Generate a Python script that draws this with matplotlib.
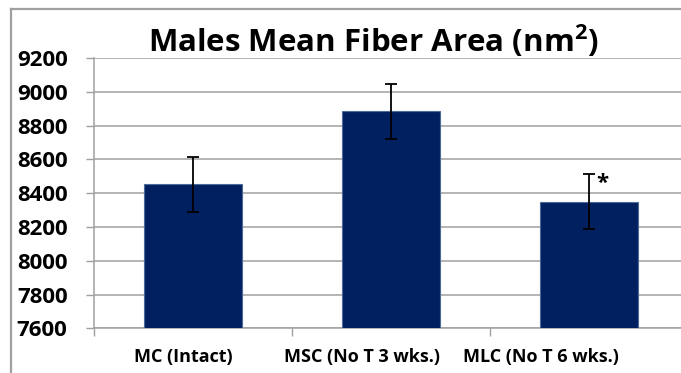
import matplotlib.pyplot as plt
from matplotlib.lines import Line2D

# values
groups = ['MC (Intact)', 'MSC (No T 3 wks.)', 'MLC (No T 6 wks.)']
mean_area = [8452, 8884, 8350]
sem_area = [163, 164, 165]
signif = ['', '', '*']
y_ticks = [7600, 7800, 8000, 8200, 8400, 8600, 8800, 9000, 9200]

plt.rcParams['font.family'] = ['Open Sans', 'DejaVu Sans']
plt.rcParams['font.weight'] = 'bold'
plt.rcParams['mathtext.fontset'] = 'custom'
plt.rcParams['mathtext.bf'] = 'Open Sans:bold'

W, H = 681, 373
fig = plt.figure(figsize=(W / 100, H / 100), dpi=100)
# plot area runs a little past the right edge, as in the reference
ax = fig.add_axes([94 / W, 1 - 328.3 / H, 594 / W, (328.3 - 58) / H])

x = list(range(len(groups)))
ax.bar(x, mean_area, width=0.49, color='#002060', edgecolor='#4d6a99',
       linewidth=0.8, zorder=3)
ax.errorbar(x, mean_area, yerr=sem_area, fmt='none', ecolor='black',
            elinewidth=1.3, capsize=4.5, capthick=1.3, zorder=4)
for xi, m, e, s in zip(x, mean_area, sem_area, signif):
    if s:
        ax.annotate(s, (xi, m + e), xytext=(13.5, -10),
                    textcoords='offset pixels', ha='center', va='center',
                    fontsize=16, color='black', zorder=5)

ax.set_xlim(-0.5, len(groups) - 0.5)
ax.set_ylim(y_ticks[0], y_ticks[-1])
ax.set_yticks(y_ticks)
ax.set_yticklabels([str(t) for t in y_ticks], fontsize=16, fontweight='bold')
ax.set_xticks([i - 0.5 for i in range(len(groups) + 1)])
ax.set_xticklabels([])
ax.tick_params(axis='both', direction='out', length=6, width=1,
               color='#a0a0a0')
ax.tick_params(axis='y', pad=13)
ax.yaxis.grid(True, color='#a0a0a0', linewidth=1.1, zorder=0)
ax.set_axisbelow(True)
for side in ['top', 'right']:
    ax.spines[side].set_visible(False)
for side in ['left', 'bottom']:
    ax.spines[side].set_color('#a0a0a0')
    ax.spines[side].set_linewidth(1.1)

# category labels sit left of the category centres in the reference
label_shift = [-10, -29, -48]
for xi, g, sh in zip(x, groups, label_shift):
    px = 94 + (xi + 0.5) * 198 + sh
    fig.text(px / W, 1 - 357 / H, g, ha='center', va='center',
             fontsize=13, fontweight='bold')

fig.text(373 / W, 1 - 41 / H, r'Males Mean Fiber Area (nm$^\mathbf{2}$)',
         ha='center', va='center', fontsize=22.5, fontweight='bold')

# outer frame of the cropped figure
fig.add_artist(Line2D([11 / W, 11 / W], [0, 1 - 9 / H], color='#a0a0a0',
                      linewidth=1.6, transform=fig.transFigure))
fig.add_artist(Line2D([11 / W, 1], [1 - 9 / H, 1 - 9 / H], color='#a0a0a0',
                      linewidth=1.6, transform=fig.transFigure))

fig.savefig('out.png', dpi=100)
